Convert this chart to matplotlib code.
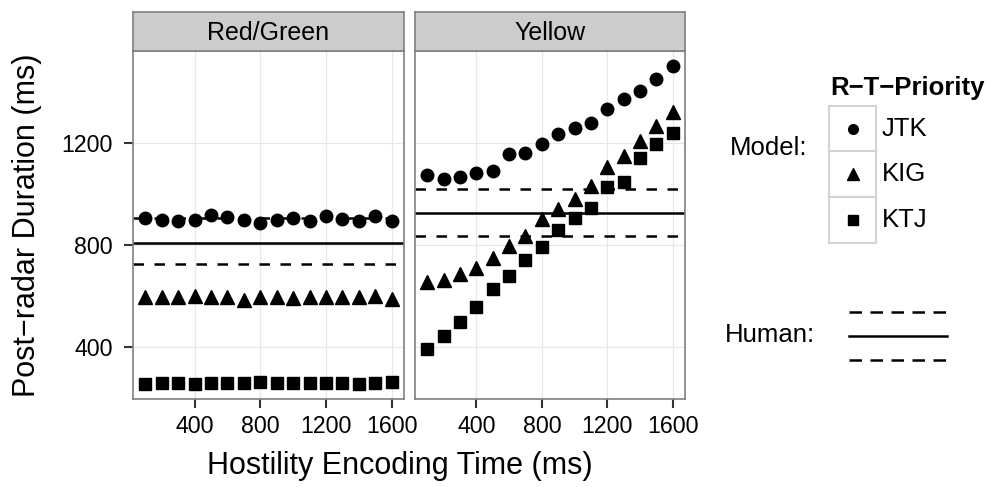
import matplotlib
matplotlib.use('Agg')
from matplotlib import pyplot as plt
from matplotlib.lines import Line2D
from matplotlib.patches import Rectangle

plt.rcParams['font.family'] = ['Liberation Sans', 'DejaVu Sans']

W, H = 991, 487

# hostility encoding time (ms)
times = [100, 200, 300, 400, 500, 600, 700, 800, 900, 1000, 1100, 1200, 1300, 1400, 1500, 1600]
panels = ["Red/Green", "Yellow"]
models = ["JTK", "KIG", "KTJ"]
markers = {"JTK": "o", "KIG": "^", "KTJ": "s"}

# post-radar duration (ms)
rg_jtk = [906, 898, 893, 898, 918, 909, 897, 885, 898, 906, 895, 915, 900, 893, 915, 895]
rg_kig = [596, 596, 597, 598, 596, 596, 585, 594, 596, 593, 596, 596, 595, 597, 599, 588]
rg_ktj = [255, 256, 256, 255, 256, 256, 259, 260, 256, 259, 259, 259, 258, 255, 256, 262]
ye_jtk = [1074, 1058, 1066, 1084, 1091, 1157, 1160, 1196, 1234, 1258, 1277, 1333, 1373, 1404, 1451, 1503]
ye_kig = [656, 663, 686, 711, 750, 796, 835, 902, 941, 979, 1033, 1107, 1149, 1209, 1267, 1323]
ye_ktj = [391, 441, 499, 558, 626, 676, 741, 793, 859, 905, 944, 1026, 1046, 1140, 1195, 1240]

# human data: lower bound, mean, upper bound
rg_human = [724, 809, 905]
ye_human = [833, 927, 1021]

data = {
    "Red/Green": {"JTK": rg_jtk, "KIG": rg_kig, "KTJ": rg_ktj, "human": rg_human},
    "Yellow": {"JTK": ye_jtk, "KIG": ye_kig, "KTJ": ye_ktj, "human": ye_human},
}


def px(x0, y0, x1, y1):
    # pixel box (top-left origin) -> figure fraction rect
    return [x0 / W, 1 - y1 / H, (x1 - x0) / W, (y1 - y0) / H]


fig = plt.figure(figsize=(W / 100, H / 100), dpi=100)

panel_x = [(133, 404), (415, 685)]
border = "#808080"
dash = (0, (4.2, 4.2))

for i, name in enumerate(panels):
    x0, x1 = panel_x[i]
    ax = fig.add_axes(px(x0, 51, x1, 399))
    ax.set_xlim(25, 1675)
    ax.set_ylim(195, 1561)
    ax.set_xticks([400, 800, 1200, 1600])
    ax.set_yticks([400, 800, 1200])
    ax.grid(True, color="#E8E8E8", lw=0.9)
    ax.set_axisbelow(True)
    for s in ax.spines.values():
        s.set_color(border)
        s.set_linewidth(1.2)
    ax.tick_params(length=6.5, width=1.5, color="#333333", labelsize=16.7,
                   labelcolor="black", pad=5)
    ax.tick_params(axis="y", pad=8)
    if i > 0:
        # facets share the y axis: only the first one shows it
        ax.tick_params(axis="y", left=False, labelleft=False)

    lo, mid, hi = data[name]["human"]
    ax.axhline(lo, color="black", lw=1.8, ls=dash, zorder=2)
    ax.axhline(hi, color="black", lw=1.8, ls=dash, zorder=2)
    ax.axhline(mid, color="black", lw=1.8, zorder=2)

    for m in models:
        ms = 10 if m == "KIG" else 9
        ax.plot(times, data[name][m], ls="none", marker=markers[m], ms=ms,
                color="black", mec="black", zorder=3)

    strip = fig.add_axes(px(x0, 12, x1, 51))
    strip.set_facecolor("#CCCCCC")
    strip.set_xticks([])
    strip.set_yticks([])
    for s in strip.spines.values():
        s.set_color(border)
        s.set_linewidth(1.2)
    strip.text(0.5, 0.47, name, ha="center", va="center", fontsize=18,
               transform=strip.transAxes)

fig.text(400 / W, 1 - 466 / H, "Hostility Encoding Time (ms)", ha="center",
         va="center", fontsize=22)
fig.text(27 / W, 1 - 225 / H, "Post\u2212radar Duration (ms)", ha="center",
         va="center", fontsize=22, rotation=90)

# legend, drawn in pixel space
lg = fig.add_axes([0, 0, 1, 1])
lg.set_xlim(0, W)
lg.set_ylim(H, 0)
lg.axis("off")
lg.patch.set_alpha(0)

lg.text(830, 88, "R\u2212T\u2212Priority", fontsize=18.5, fontweight="bold",
        ha="left", va="center")
lg.text(730, 148, "Model:", fontsize=18.5, ha="left", va="center")
key_top = [105.7, 150.7, 196.7]
for k, m in enumerate(models):
    y0 = key_top[k]
    lg.add_patch(Rectangle((829, y0), 47, 46, facecolor="white",
                           edgecolor="#D3D3D3", lw=1.5))
    lg.add_line(Line2D([852.5], [y0 + 23], ls="none", marker=markers[m],
                       ms=7 if m != "KIG" else 8, color="black"))
    lg.text(882, y0 + 23, m, fontsize=18.5, ha="left", va="center")

lg.text(725, 335, "Human:", fontsize=18.5, ha="left", va="center")
lg.add_line(Line2D([849, 947], [312, 312], color="black", lw=1.8, ls=(0, (5, 3.4))))
lg.add_line(Line2D([849, 947], [336, 336], color="black", lw=1.8))
lg.add_line(Line2D([849, 947], [360, 360], color="black", lw=1.8, ls=(0, (5, 3.4))))

fig.savefig("out.png", dpi=100)
plt.close(fig)
